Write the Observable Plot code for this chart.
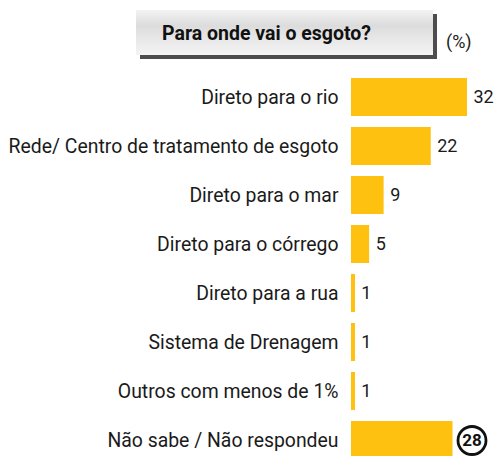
<!DOCTYPE html>
<html>
<head>
<meta charset="utf-8">
<script src="https://cdn.jsdelivr.net/npm/d3@7"></script>
<script src="https://cdn.jsdelivr.net/npm/@observablehq/plot@0.6"></script>
<style>
  html, body { margin: 0; padding: 0; overflow: hidden; background: #fff; }
  #wrap { position: relative; width: 494px; height: 456px; font-family: Roboto, sans-serif; }
  #title {
    position: absolute; left: 136px; top: 10px; width: 297px; height: 45px;
    background: linear-gradient(#f3f3f3 0%, #dcdcdc 35%, #e6e6e6 60%, #f4f4f4 100%);
    box-shadow: 4px 4px 0 #4d4d4d;
    box-sizing: border-box; padding-left: 26px;
    font-weight: bold; font-size: 19.5px; line-height: 47px; color: #111;
  }
  #unit { position: absolute; left: 446px; top: 31px; font-size: 18px; color: #222; }
  #chart { position: absolute; left: 0; top: 60px; }
</style>
</head>
<body>
<div id="wrap">
  <div id="title">Para onde vai o esgoto?</div>
  <div id="unit">(%)</div>
  <div id="chart"></div>
</div>
<script>
const categories = [
  "Direto para o rio",
  "Rede/ Centro de tratamento de esgoto",
  "Direto para o mar",
  "Direto para o córrego",
  "Direto para a rua",
  "Sistema de Drenagem",
  "Outros com menos de 1%",
  "Não sabe / Não respondeu"
];
const values = [32, 22, 9, 5, 1, 1, 1, 28];
const highlighted = ["Não sabe / Não respondeu"];

const data = categories.map((c, i) => ({category: c, value: values[i]}));
const normal = data.filter(d => !highlighted.includes(d.category));
const special = data.filter(d => highlighted.includes(d.category));

const chart = Plot.plot({
  width: 494,
  height: 412,
  marginLeft: 351,
  marginRight: 27,
  marginTop: 5,
  marginBottom: 0,
  style: {fontFamily: "Roboto, sans-serif", fontSize: "19px", color: "#1a1a1a", background: "transparent", overflow: "visible"},
  x: {domain: [0, 32], axis: null},
  y: {domain: categories, padding: 0.23, label: null, axis: null},
  marks: [
    Plot.axisY({tickSize: 0, tickPadding: 13, fontSize: 19.4, label: null, fill: "#1a1a1a"}),
    Plot.barX(data, {x: d => Math.max(d.value, 1.1), y: "category", fill: "#fec10f"}),
    Plot.text(normal, {x: "value", y: "category", text: d => String(d.value), textAnchor: "start", dx: 6, fontSize: 18, fill: "#1a1a1a"}),
    Plot.dot(special, {x: "value", y: "category", r: 14, dx: 19, stroke: "#111", strokeWidth: 2.8, fill: "none"}),
    Plot.text(special, {x: "value", y: "category", text: d => String(d.value), dx: 19, fontSize: 17, fontWeight: "bold", fill: "#111"})
  ]
});
document.getElementById("chart").appendChild(chart);
</script>
</body>
</html>
